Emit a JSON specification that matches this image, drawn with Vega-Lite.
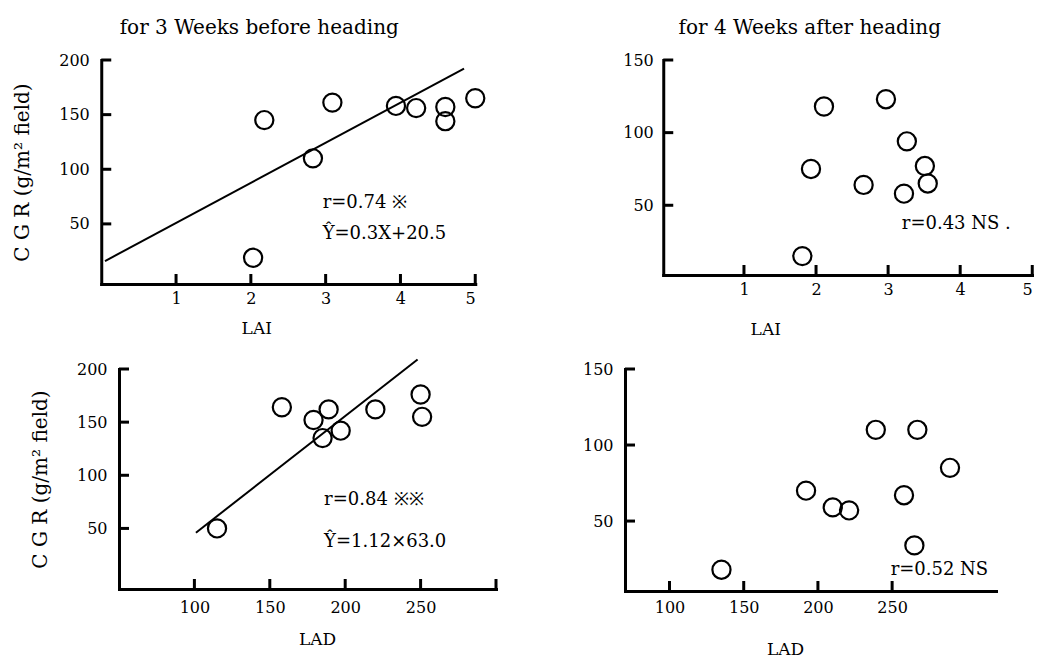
{
  "$schema": "https://vega.github.io/schema/vega-lite/v6.json",
  "background": "white",
  "padding": {"left": 12, "top": 18, "right": 0, "bottom": 0},
  "spacing": 18,
  "center": true,
  "config": {
    "font": "DejaVu Serif",
    "view": {"stroke": null},
    "axis": {
      "grid": false,
      "domainColor": "black",
      "domainWidth": 3,
      "domainCap": "square",
      "ticks": false,
      "tickSize": 0,
      "labelFont": "DejaVu Serif",
      "labelFontSize": 16,
      "labelColor": "black",
      "titleFont": "DejaVu Serif",
      "titleFontSize": 17,
      "titleFontWeight": "normal",
      "titleColor": "black"
    },
    "tick": {"color": "black", "opacity": 1, "thickness": 3, "size": 10},
    "title": {"font": "DejaVu Serif", "fontSize": 20, "fontWeight": "normal", "color": "black", "offset": 14}
  },
  "datasets": {
    "p1pts": [
      {"LAI": 2.18, "CGR": 145}, {"LAI": 2.03, "CGR": 19}, {"LAI": 3.09, "CGR": 161},
      {"LAI": 2.83, "CGR": 110}, {"LAI": 3.94, "CGR": 158}, {"LAI": 4.21, "CGR": 156},
      {"LAI": 4.6, "CGR": 157}, {"LAI": 4.6, "CGR": 144}, {"LAI": 5.0, "CGR": 165}
    ],
    "p1line": [{"LAI": 0.05, "CGR": 16}, {"LAI": 4.85, "CGR": 192}],
    "p1txt": [
      {"LAI": 2.96, "CGR": 69, "label": "r=0.74 ※"},
      {"LAI": 2.96, "CGR": 41, "label": "Ŷ=0.3X+20.5"}
    ],
    "lai_ticks": [{"LAI": 1}, {"LAI": 2}, {"LAI": 3}, {"LAI": 4}, {"LAI": 5}],
    "cgr200_ticks": [{"CGR": 50}, {"CGR": 100}, {"CGR": 150}, {"CGR": 200}],
    "cgr150_ticks": [{"CGR": 50}, {"CGR": 100}, {"CGR": 150}],
    "lad3_ticks": [{"LAD": 100}, {"LAD": 150}, {"LAD": 200}, {"LAD": 250}, {"LAD": 300}],
    "lad4_ticks": [{"LAD": 100}, {"LAD": 150}, {"LAD": 200}, {"LAD": 250}],
    "p2pts": [
      {"LAI": 2.11, "CGR": 118}, {"LAI": 2.97, "CGR": 123}, {"LAI": 3.26, "CGR": 94},
      {"LAI": 1.93, "CGR": 75}, {"LAI": 2.66, "CGR": 64}, {"LAI": 3.22, "CGR": 58},
      {"LAI": 3.51, "CGR": 77}, {"LAI": 3.55, "CGR": 65}, {"LAI": 1.81, "CGR": 15}
    ],
    "p2txt": [{"LAI": 3.19, "CGR": 37, "label": "r=0.43 NS ."}],
    "p3pts": [
      {"LAD": 158, "CGR": 164}, {"LAD": 179, "CGR": 152}, {"LAD": 189, "CGR": 162},
      {"LAD": 185, "CGR": 135}, {"LAD": 197, "CGR": 142}, {"LAD": 220, "CGR": 162},
      {"LAD": 250, "CGR": 176}, {"LAD": 251, "CGR": 155}, {"LAD": 115, "CGR": 50}
    ],
    "p3line": [{"LAD": 101, "CGR": 46}, {"LAD": 248, "CGR": 209}],
    "p3txt": [
      {"LAD": 186, "CGR": 77, "label": "r=0.84  ※※"},
      {"LAD": 186, "CGR": 37, "label": "Ŷ=1.12×63.0"}
    ],
    "p4pts": [
      {"LAD": 239, "CGR": 110}, {"LAD": 267, "CGR": 110}, {"LAD": 289, "CGR": 85},
      {"LAD": 192, "CGR": 70}, {"LAD": 210, "CGR": 59}, {"LAD": 221, "CGR": 57},
      {"LAD": 258, "CGR": 67}, {"LAD": 265, "CGR": 34}, {"LAD": 135, "CGR": 18}
    ],
    "p4txt": [{"LAD": 249, "CGR": 18, "label": "r=0.52 NS"}]
  },
  "vconcat": [
    {
      "spacing": 133,
      "hconcat": [
        {
          "width": 374, "height": 224,
          "title": {"text": "for 3 Weeks before heading", "dx": -29},
          "layer": [
            {
              "data": {"name": "p1pts"},
              "mark": {"type": "point", "shape": "circle", "filled": false, "size": 330, "strokeWidth": 2.2, "color": "black", "opacity": 1},
              "encoding": {
                "x": {"field": "LAI", "type": "quantitative", "scale": {"domain": [0, 5], "nice": false, "zero": false},
                      "axis": {"values": [1, 2, 3, 4, 5], "format": "d", "title": "LAI", "titleX": 155, "titlePadding": 14, "labelPadding": 6}},
                "y": {"field": "CGR", "type": "quantitative", "scale": {"domain": [-5, 200], "nice": false, "zero": false},
                      "axis": {"values": [50, 100, 150, 200], "title": "C G R (g/m² field)", "titleFontSize": 20, "titlePadding": 26, "labelPadding": 12}}
              }
            },
            {
              "data": {"name": "lai_ticks"},
              "mark": {"type": "tick", "orient": "vertical", "yOffset": -5},
              "encoding": {"x": {"field": "LAI", "type": "quantitative"}, "y": {"datum": -5, "type": "quantitative"}}
            },
            {
              "data": {"name": "cgr200_ticks"},
              "mark": {"type": "tick", "orient": "horizontal", "xOffset": 5},
              "encoding": {"y": {"field": "CGR", "type": "quantitative"}, "x": {"datum": 0, "type": "quantitative"}}
            },
            {
              "data": {"name": "p1line"},
              "mark": {"type": "line", "color": "black", "strokeWidth": 2},
              "encoding": {"x": {"field": "LAI", "type": "quantitative"}, "y": {"field": "CGR", "type": "quantitative"}}
            },
            {
              "data": {"name": "p1txt"},
              "mark": {"type": "text", "align": "left", "baseline": "middle", "fontSize": 18, "font": "DejaVu Serif", "color": "black"},
              "encoding": {"x": {"field": "LAI", "type": "quantitative"}, "y": {"field": "CGR", "type": "quantitative"}, "text": {"field": "label"}}
            }
          ]
        },
        {
          "width": 369, "height": 215,
          "title": {"text": "for 4 Weeks after heading", "dx": -38},
          "layer": [
            {
              "data": {"name": "p2pts"},
              "mark": {"type": "point", "shape": "circle", "filled": false, "size": 330, "strokeWidth": 2.2, "color": "black", "opacity": 1},
              "encoding": {
                "x": {"field": "LAI", "type": "quantitative", "scale": {"domain": [-0.12, 5], "nice": false, "zero": false},
                      "axis": {"values": [1, 2, 3, 4, 5], "format": "d", "title": "LAI", "titleX": 102, "titlePadding": 24, "labelPadding": 6}},
                "y": {"field": "CGR", "type": "quantitative", "scale": {"domain": [2, 150], "nice": false, "zero": false},
                      "axis": {"values": [50, 100, 150], "title": null, "labelPadding": 10}}
              }
            },
            {
              "data": {"name": "lai_ticks"},
              "mark": {"type": "tick", "orient": "vertical", "yOffset": -5},
              "encoding": {"x": {"field": "LAI", "type": "quantitative"}, "y": {"datum": 2, "type": "quantitative"}}
            },
            {
              "data": {"name": "cgr150_ticks"},
              "mark": {"type": "tick", "orient": "horizontal", "xOffset": 5},
              "encoding": {"y": {"field": "CGR", "type": "quantitative"}, "x": {"datum": -0.12, "type": "quantitative"}}
            },
            {
              "data": {"name": "p2txt"},
              "mark": {"type": "text", "align": "left", "baseline": "middle", "fontSize": 18, "font": "DejaVu Serif", "color": "black"},
              "encoding": {"x": {"field": "LAI", "type": "quantitative"}, "y": {"field": "CGR", "type": "quantitative"}, "text": {"field": "label"}}
            }
          ]
        }
      ]
    },
    {
      "spacing": 84,
      "hconcat": [
        {
          "width": 377, "height": 220,
          "layer": [
            {
              "data": {"name": "p3pts"},
              "mark": {"type": "point", "shape": "circle", "filled": false, "size": 330, "strokeWidth": 2.2, "color": "black", "opacity": 1},
              "encoding": {
                "x": {"field": "LAD", "type": "quantitative", "scale": {"domain": [50, 300], "nice": false, "zero": false},
                      "axis": {"values": [100, 150, 200, 250, 300], "labelExpr": "datum.value == 300 ? '' : datum.label", "title": "LAD", "titleX": 198, "titlePadding": 16, "labelPadding": 10}},
                "y": {"field": "CGR", "type": "quantitative", "scale": {"domain": [-7, 200], "nice": false, "zero": false},
                      "axis": {"values": [50, 100, 150, 200], "title": "C G R (g/m² field)", "titleFontSize": 20, "titlePadding": 26, "labelPadding": 12}}
              }
            },
            {
              "data": {"name": "lad3_ticks"},
              "mark": {"type": "tick", "orient": "vertical", "yOffset": -5},
              "encoding": {"x": {"field": "LAD", "type": "quantitative"}, "y": {"datum": -7, "type": "quantitative"}}
            },
            {
              "data": {"name": "cgr200_ticks"},
              "mark": {"type": "tick", "orient": "horizontal", "xOffset": 5},
              "encoding": {"y": {"field": "CGR", "type": "quantitative"}, "x": {"datum": 50, "type": "quantitative"}}
            },
            {
              "data": {"name": "p3line"},
              "mark": {"type": "line", "color": "black", "strokeWidth": 2},
              "encoding": {"x": {"field": "LAD", "type": "quantitative"}, "y": {"field": "CGR", "type": "quantitative"}}
            },
            {
              "data": {"name": "p3txt"},
              "mark": {"type": "text", "align": "left", "baseline": "middle", "fontSize": 18, "font": "DejaVu Serif", "color": "black"},
              "encoding": {"x": {"field": "LAD", "type": "quantitative"}, "y": {"field": "CGR", "type": "quantitative"}, "text": {"field": "label"}}
            }
          ]
        },
        {
          "width": 371, "height": 222,
          "title": {"text": " ", "orient": "right", "fontSize": 6, "offset": 14},
          "layer": [
            {
              "data": {"name": "p4pts"},
              "mark": {"type": "point", "shape": "circle", "filled": false, "size": 330, "strokeWidth": 2.2, "color": "black", "opacity": 1},
              "encoding": {
                "x": {"field": "LAD", "type": "quantitative", "scale": {"domain": [70, 320], "nice": false, "zero": false},
                      "axis": {"values": [100, 150, 200, 250], "title": "LAD", "titleX": 160, "titlePadding": 26, "labelPadding": 8}},
                "y": {"field": "CGR", "type": "quantitative", "scale": {"domain": [4, 150], "nice": false, "zero": false},
                      "axis": {"values": [50, 100, 150], "title": null, "labelPadding": 12}}
              }
            },
            {
              "data": {"name": "lad4_ticks"},
              "mark": {"type": "tick", "orient": "vertical", "yOffset": -5},
              "encoding": {"x": {"field": "LAD", "type": "quantitative"}, "y": {"datum": 4, "type": "quantitative"}}
            },
            {
              "data": {"name": "cgr150_ticks"},
              "mark": {"type": "tick", "orient": "horizontal", "xOffset": 5},
              "encoding": {"y": {"field": "CGR", "type": "quantitative"}, "x": {"datum": 70, "type": "quantitative"}}
            },
            {
              "data": {"name": "p4txt"},
              "mark": {"type": "text", "align": "left", "baseline": "middle", "fontSize": 18, "font": "DejaVu Serif", "color": "black"},
              "encoding": {"x": {"field": "LAD", "type": "quantitative"}, "y": {"field": "CGR", "type": "quantitative"}, "text": {"field": "label"}}
            }
          ]
        }
      ]
    }
  ]
}
